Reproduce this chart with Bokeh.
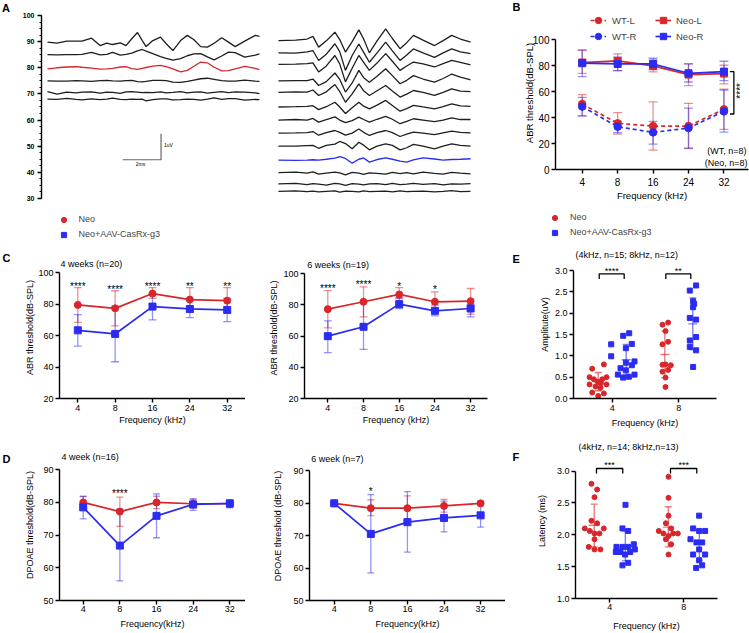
import numpy as np
from bokeh.plotting import figure
from bokeh.models import (ColumnDataSource, Whisker, TeeHead, Legend, LegendItem, Label,
                          LabelSet, FixedTicker, SingleIntervalTicker, Range1d, PrintfTickFormatter)
from bokeh.core.properties import value
from bokeh.layouts import row, column
from bokeh.embed import file_html
from bokeh.resources import INLINE

FONT = "Liberation Sans"
RED = "#d8262b"
BLUE = "#2b2bf2"
WAVE = "#1e1e1e"

# ------------------------------------------------------------------ data
FREQ_LABELS = ["4", "8", "16", "24", "32"]
FREQ_POS = [0, 1, 2, 3, 4]

# Panel A: ABR waveforms (time in ms, offsets in axis units; 1 uV = 10 axis units)
LEFT_T = [0, 0.5, 1.0, 1.5, 1.8, 2.3, 2.75, 3.1, 3.4, 3.8, 4.1, 4.4, 4.7, 4.95, 5.15, 5.5,
          5.9, 6.2, 6.55, 6.95, 7.3, 7.65, 8.0, 8.35, 8.7, 9.1, 9.45, 9.8, 10.3, 10.85, 11.07]
LEFT_BASE = [89.8, 85.0, 79.7, 75.0, 70.6, 68.0]
LEFT_COLORS = [WAVE, WAVE, RED, WAVE, WAVE, WAVE]
LEFT_DEV = [
    [0, -0.4, 0.4, 0.4, 0.4, 1.5, -1.3, -0.4, -0.9, -0.3, -1.3, 1.3, 3.7, 0.6, -1.7, 0.6, 1.9, -0.6, -3.2, 0.6, 2.6, 0.9, -1.7, -1.9, -0.4, 1.7, 0.0, -1.7, 0.4, 2.6, 2.2],
    [0, -0.1, 0, 0, 0.1, 0.9, -0.1, 0.1, 0.9, -0.2, 0.1, 0.6, 1.5, 2.0, 1.4, 0.4, -0.7, -1.4, -2.1, -1.5, -0.4, 0.3, 0.4, -0.8, -2.0, -0.5, 1.0, 0.8, -0.9, -0.2, 0.3],
    [-0.1, 0.3, 0.6, 0.7, 0.5, 0.2, -0.2, -0.1, 0.1, 0.6, 0.7, 0.0, -0.3, 0.1, 0.4, 0.9, 1.2, 0.7, -0.1, -1.3, -0.7, 0.9, 2.5, 2.2, 0.5, -0.9, -0.8, -0.1, 0.8, 0.1, -0.4],
    [0, -0.1, -0.1, 0.1, 0.0, -0.2, 0.1, 0.2, 0.0, -0.1, 0.1, 0.2, -0.3, -0.4, -0.2, 0.2, 0.2, 0.1, -0.5, -0.6, -0.2, 0.3, 0.8, 1.0, 0.6, 0.1, -0.1, -0.1, 0.3, -0.1, -0.2],
    [0.3, -0.7, 0.1, -0.2, 0.1, 0.2, -0.3, 0.1, 0.0, -0.4, 0.2, 0.3, 0.1, -0.1, 0.0, -0.1, 0.2, -0.2, 0.0, 0.3, -0.2, 0.1, 0.2, -0.3, 0.0, 0.3, -0.1, 0.2, 0.1, -0.2, -0.5],
    [0.0, -0.1, 0.3, -0.1, -0.3, 0.1, -0.2, 0.0, 0.4, -0.1, -0.2, 0.0, -0.1, 0.0, -0.7, -0.2, 0.1, 0.1, -0.3, -0.2, 0.0, -0.1, -0.4, 0.0, 0.5, -0.1, 0.2, 0.2, -0.4, -0.1, -0.2],
]
RIGHT_START_MS = 12.06
RIGHT_T = [0, 0.9, 1.5, 1.8, 2.1, 2.5, 2.95, 3.2, 3.5, 3.85, 4.2, 4.45, 4.75, 5.15, 5.6, 5.95,
           6.35, 6.7, 7.05, 7.55, 8.15, 8.6, 9.05, 9.5, 10.05, 10.5]
RIGHT_BASE = [90.4, 85.7, 81.3, 75.0, 70.6, 65.0, 60.0, 55.0, 50.0, 44.7, 39.6, 35.5, 32.7]
RIGHT_COLORS = [WAVE] * 9 + [BLUE] + [WAVE] * 3
RIGHT_DEV = [
    [0, 0.2, 0.6, 1.6, -2.5, -0.1, 3.2, 0.4, -4.4, -0.4, 4.1, 0.6, -4.7, -0.1, 4.5, 0.8, -3.1, -0.8, 2.0, 0.2, -1.9, 0, 2.0, 0.6, -0.6, -1.0],
    [0, -0.1, 0.4, 0.9, -2.9, -0.5, 3.5, 0.5, -6.7, -1.0, 3.4, 0.2, -3.6, 0.0, 4.1, 0.8, -2.9, -0.8, 1.5, 0.0, -1.7, 0.0, 1.5, 0.4, -0.3, -0.6],
    [0, 0.1, 0.3, 0.6, -2.9, -0.6, 3.4, 0.2, -6.7, -1.5, 3.4, 0.8, -2.3, 0.5, 4.1, 1.2, -2.3, -0.6, 0.9, 0.2, -1.0, 0.3, 1.5, 0.8, -0.2, -0.5],
    [0, 0.1, 0.1, 0.7, -1.8, -0.3, 3.0, 0.6, -4.3, -0.8, 4.0, 1.2, -0.5, 1.8, 4.6, 2.0, -1.1, 0.2, 2.0, 0.7, -0.5, 0.9, 2.6, 1.4, 0.4, 0.2],
    [0, 0.2, 0.1, 0.9, -1.2, 0.2, 3.0, 0.3, -3.8, -0.6, 3.2, 0.6, -1.2, 0.6, 2.6, 0.5, -1.8, -0.7, 0.7, 0.0, -1.2, 0.0, 1.3, 0.5, 0.3, 0.0],
    [0, 0.1, 0.2, 0.5, -1.0, 0.1, 1.8, 0.0, -2.5, -0.3, 1.8, 0.3, -0.7, 0.7, 2.5, 0.6, -1.6, -0.6, 0.6, 0.0, -0.7, 0.1, 1.2, 0.4, 0.2, 0.0],
    [0, 0.2, 0.0, 0.6, -0.8, 0.2, 1.2, 0.0, -1.0, -0.2, 1.1, 0.2, -0.8, 0.3, 1.4, 0.3, -1.4, -0.5, 0.5, 0.0, -0.6, 0.0, 0.8, 0.2, 0.2, 0.0],
    [0, 0.1, 0.2, 0.6, -0.8, 0.2, 1.0, 0.3, -0.8, 0.0, 1.6, 0.3, -0.9, 0.2, 1.0, 0.2, -1.3, -0.4, 0.4, 0.0, -0.6, 0.1, 0.8, 0.3, 0.1, 0.0],
    [0, 0.0, 0.2, 0.3, -0.8, 0.3, 0.8, 1.8, 1.0, -1.0, 1.5, 0.4, -1.4, 0.0, 0.9, 0.3, -1.4, -0.6, 0.7, 0.0, -1.0, 0.0, 0.9, 0.3, 0.0, 0.0],
    [0, -0.1, 0.0, 0.1, 0.0, 0.3, 0.7, 1.3, 0.6, -1.2, 0.3, 0.8, -0.8, 0.2, 0.8, 0.3, -0.4, -0.8, 0.1, 0.8, 0.4, 0.0, 0.2, 0.3, 0.5, 0.4],
    [0.3, 0.5, 0.1, 0.6, -0.3, 0.1, 0.5, 0.2, -0.6, 0.4, 0.1, -0.4, 0.2, 0.0, -0.3, 0.4, -0.1, 0.3, -0.2, 0.5, 0.0, -0.3, 0.4, 0.1, -0.2, 0.0],
    [0.1, 0.3, -0.2, 0.2, 0.0, -0.4, 0.3, 0.1, -0.5, 0.2, 0.0, -0.3, 0.1, 0.2, -0.2, 0.3, -0.2, 0.0, 0.3, -0.1, 0.2, -0.3, 0.1, 0.0, 0.2, -0.1],
    [0.0, 0.2, -0.1, 0.1, -0.2, 0.0, 0.2, -0.3, 0.1, 0.0, -0.2, 0.2, -0.1, 0.0, 0.1, -0.2, 0.2, -0.1, 0.0, 0.1, -0.2, 0.0, 0.3, -0.1, 0.0, 0.1],
]
SCALE_MS = 2
SCALE_UV = 1
UV_AXIS_UNITS = 10

# Panel B: ABR thresholds, mean / lower / upper
WT_L = [50.5, 35.6, 33.5, 33.5, 46.4]
WT_L_LO = [41.5, 27.3, 14.9, 16.2, 31.0]
WT_L_HI = [57.7, 43.8, 52.1, 51.0, 62.0]
WT_R = [48.5, 33.0, 28.6, 32.0, 44.8]
WT_R_LO = [41.2, 28.4, 19.6, 16.5, 28.9]
WT_R_HI = [55.7, 37.1, 37.1, 47.4, 61.3]
NEO_L = [82.5, 83.8, 79.9, 73.2, 74.0]
NEO_L_LO = [74.2, 76.3, 75.3, 64.7, 66.0]
NEO_L_HI = [91.8, 89.2, 84.5, 81.4, 80.4]
NEO_R = [82.0, 81.4, 81.4, 74.2, 75.5]
NEO_R_LO = [71.6, 76.3, 77.1, 67.5, 68.6]
NEO_R_HI = [92.3, 86.6, 85.8, 81.4, 83.5]
B_SIG_Y = [75.5, 42.8]

# Panel C: ABR thresholds Neo (red) vs Neo+AAV (blue)
C4_RED = [79.6, 77.4, 86.8, 83.0, 82.3]
C4_RED_LO = [68.5, 66.2, 83.8, 75.0, 74.3]
C4_RED_HI = [90.6, 88.6, 90.6, 90.6, 90.6]
C4_BLUE = [63.4, 61.1, 78.5, 77.0, 76.4]
C4_BLUE_LO = [53.4, 43.4, 70.0, 71.5, 69.0]
C4_BLUE_HI = [73.4, 78.8, 86.5, 82.5, 83.8]
C4_STARS = ["****", "****", "****", "**", "**"]
C4_STAR_Y = [91.0, 89.1, 91.0, 91.0, 91.0]

C6_RED = [77.2, 81.9, 86.6, 81.9, 82.3]
C6_RED_LO = [65.2, 72.3, 84.0, 75.5, 74.0]
C6_RED_HI = [89.1, 91.5, 91.0, 88.3, 90.4]
C6_BLUE = [59.9, 65.9, 80.4, 76.1, 77.6]
C6_BLUE_LO = [49.4, 51.4, 77.6, 72.9, 72.3]
C6_BLUE_HI = [69.7, 81.5, 84.4, 79.7, 80.2]
C6_STARS = ["****", "****", "*", "*", ""]
C6_STAR_Y = [90.6, 92.9, 91.9, 89.7, 90.0]

# Panel D: DPOAE thresholds
D4_RED = [80.0, 77.2, 80.0, 79.6, 79.6]
D4_RED_LO = [78.0, 72.7, 78.1, 78.3, 78.4]
D4_RED_HI = [81.8, 81.6, 81.9, 81.0, 80.8]
D4_BLUE = [78.5, 66.8, 75.9, 79.4, 79.7]
D4_BLUE_LO = [75.0, 56.0, 69.2, 77.6, 78.4]
D4_BLUE_HI = [81.9, 78.0, 82.6, 81.1, 80.8]
D4_STARS = ["", "****", "", "", ""]
D4_STAR_Y = [83.0, 82.8, 83.0, 83.0, 83.0]

D6_RED = [79.9, 78.4, 78.4, 79.1, 79.9]
D6_RED_LO = [79.7, 76.1, 75.1, 77.2, 79.2]
D6_RED_HI = [80.1, 81.0, 82.2, 81.1, 80.6]
D6_BLUE = [79.9, 70.5, 74.1, 75.4, 76.2]
D6_BLUE_LO = [79.7, 58.5, 64.9, 71.1, 72.6]
D6_BLUE_HI = [80.1, 82.6, 83.5, 80.6, 80.0]
D6_STARS = ["", "*", "", "", ""]
D6_STAR_Y = [83.0, 83.5, 83.0, 83.0, 83.0]

# Panel E: amplitude (uV) per animal; dx = horizontal jitter
E_CATS = ["4", "8"]
E_RED_4 = [0.80, 0.70, 0.50, 0.50, 0.45, 0.45, 0.39, 0.36, 0.33, 0.33, 0.28, 0.25, 0.14, 0.12, 0.06]
E_RED_4_DX = [-0.125, -0.30, -0.34, -0.085, -0.275, -0.15, -0.215, -0.17, -0.34, -0.085, -0.25, -0.175, -0.30, -0.125, -0.21]
E_BLUE_4 = [1.53, 1.47, 1.28, 1.27, 1.18, 0.99, 0.87, 0.84, 0.78, 0.71, 0.66, 0.56, 0.56, 0.51, 0.49]
E_BLUE_4_DX = [0.255, 0.165, 0.295, -0.015, 0.205, -0.015, 0.335, 0.205, 0.295, 0.125, 0.205, 0.085, 0.335, 0.25, 0.165]
E_RED_8 = [1.78, 1.73, 1.58, 1.33, 1.27, 0.80, 0.79, 0.78, 0.67, 0.63, 0.49, 0.27]
E_RED_8_DX = [-0.16, -0.245, -0.20, -0.16, -0.245, -0.20, -0.245, -0.12, -0.16, -0.245, -0.20, -0.20]
E_BLUE_8 = [2.65, 2.53, 2.28, 2.22, 2.14, 1.89, 1.85, 1.44, 1.36, 1.21, 1.13, 0.74]
E_BLUE_8_DX = [0.26, 0.165, 0.215, 0.23, 0.215, 0.165, 0.26, 0.26, 0.165, 0.165, 0.26, 0.215]
E_RED_MEAN = [0.39, 1.03]
E_RED_SD_LO = [0.18, 0.49]
E_RED_SD_HI = [0.61, 1.58]
E_BLUE_MEAN = [0.91, 1.75]
E_BLUE_SD_LO = [0.56, 1.14]
E_BLUE_SD_HI = [1.27, 2.36]
E_SIG = ["****", "**"]
E_SIG_Y = [2.92, 2.80]
E_SIG_TEXT_Y = 2.99

# Panel F: latency (ms)
F_RED_4 = [2.80, 2.71, 2.59, 2.22, 2.18, 2.10, 2.10, 2.06, 2.02, 2.02, 1.93, 1.81, 1.77, 1.77]
F_RED_4_DX = [-0.248, -0.171, -0.207, -0.248, -0.171, -0.338, -0.081, -0.270, -0.207, -0.140, -0.207, -0.284, -0.207, -0.126]
F_BLUE_4 = [2.47, 2.10, 2.06, 1.81, 1.81, 1.81, 1.85, 1.77, 1.73, 1.73, 1.73, 1.69, 1.56, 1.52]
F_BLUE_4_DX = [0.212, 0.171, 0.248, 0.090, 0.171, 0.248, 0.324, 0.338, 0.081, 0.144, 0.275, 0.207, 0.248, 0.171]
F_RED_8 = [2.91, 2.58, 2.30, 2.18, 2.10, 2.06, 2.02, 2.02, 2.02, 1.98, 1.93, 1.85, 1.69]
F_RED_8_DX = [-0.207, -0.207, -0.207, -0.243, -0.171, -0.338, -0.275, -0.144, -0.081, -0.207, -0.243, -0.171, -0.207]
F_BLUE_8 = [2.30, 2.10, 2.06, 2.06, 1.93, 1.88, 1.88, 1.77, 1.69, 1.69, 1.60, 1.52, 1.48]
F_BLUE_8_DX = [0.207, 0.126, 0.207, 0.288, 0.090, 0.171, 0.248, 0.207, 0.126, 0.288, 0.207, 0.248, 0.167]
F_RED_MEAN = [2.15, 2.12]
F_RED_SD_LO = [1.81, 1.81]
F_RED_SD_HI = [2.48, 2.44]
F_BLUE_MEAN = [1.79, 1.88]
F_BLUE_SD_LO = [1.59, 1.60]
F_BLUE_SD_HI = [2.06, 2.08]
F_SIG = ["***", "***"]
F_SIG_Y = [3.04, 2.96]
F_SIG_TEXT_Y = 3.10


# ------------------------------------------------------------------ helpers
def base_fig(w, h, xr, yr, left, right, top, bottom, axes=True):
    kw = {} if axes else dict(x_axis_type=None, y_axis_type=None)
    p = figure(width=w, height=h, x_range=Range1d(*xr), y_range=Range1d(*yr),
               output_backend="svg", toolbar_location=None,
               min_border_left=left, min_border_right=right,
               min_border_top=top, min_border_bottom=bottom, **kw)
    p.grid.visible = False
    p.outline_line_color = None
    return p


def style_axis(ax, tick_size="9px", label_size="9px", label_standoff=2, tick_standoff=2):
    ax.axis_line_width = 1.4
    ax.axis_line_color = "black"
    ax.major_tick_line_width = 1.4
    ax.major_tick_line_color = "black"
    ax.major_tick_out = 4
    ax.major_tick_in = 0
    ax.minor_tick_line_color = None
    ax.major_label_text_font = FONT
    ax.major_label_text_font_size = tick_size
    ax.major_label_text_color = "black"
    ax.major_label_standoff = tick_standoff
    ax.axis_label_text_font = FONT
    ax.axis_label_text_font_size = label_size
    ax.axis_label_text_font_style = "normal"
    ax.axis_label_text_color = "black"
    ax.axis_label_standoff = label_standoff


def cat_xaxis(p, labels):
    pos = list(range(len(labels)))
    p.xaxis.ticker = FixedTicker(ticks=pos)
    p.xaxis.major_label_overrides = {i: s for i, s in zip(pos, labels)}


def slabel(p, x, y, text, size="9px", align="left", baseline="middle", bold=False, angle=0.0,
           units="screen"):
    p.add_layout(Label(x=x, y=y, x_units=units, y_units=units, text=text, text_font=FONT,
                       text_font_size=size, text_align=align, text_baseline=baseline,
                       text_font_style="bold" if bold else "normal", angle=angle,
                       text_color="black"))


def errbars(p, x, lo, hi, color, head=8, alpha=0.5, width=1.3):
    src = ColumnDataSource(dict(x=list(x), lo=list(lo), hi=list(hi)))
    kw = dict(line_color=color, line_alpha=alpha, line_width=width)
    p.add_layout(Whisker(source=src, base="x", lower="lo", upper="hi",
                         upper_head=TeeHead(size=head, **kw),
                         lower_head=TeeHead(size=head, **kw), **kw))


def star_labels(p, xs, ys, texts, size="10px"):
    src = ColumnDataSource(dict(x=list(xs), y=list(ys), t=list(texts)))
    p.add_layout(LabelSet(x="x", y="y", text="t", source=src, text_align="center",
                          text_baseline="middle", text_font=value(FONT),
                          text_font_size=value(size), text_color="black"))


def legend(p, items, loc, gw, gh, standoff, spacing, size="9px"):
    lg = Legend(items=[LegendItem(label=t, renderers=r) for t, r in items], location=loc,
                orientation="vertical", glyph_width=gw, glyph_height=gh, label_height=gh,
                label_width=10, label_standoff=standoff, spacing=spacing, padding=0, margin=0,
                border_line_color=None, background_fill_alpha=0,
                label_text_font=FONT, label_text_font_size=size)
    p.add_layout(lg)


def key_markers(p):
    # legend keys only (no visible data point)
    rn = p.scatter([np.nan], [np.nan], marker="circle", size=5, color=RED)
    rg = p.scatter([np.nan], [np.nan], marker="square", size=5, color=BLUE)
    return rn, rg


def threshold_panel(w, h, xr, yr, bounds, borders, yticks, red, red_lo, red_hi, blue, blue_lo,
                    blue_hi, stars, star_y, ylabel, xlabel, head=8, ylab_std=0, xlab_std=1,
                    xtick_std=2):
    p = base_fig(w, h, xr, yr, *borders)
    errbars(p, FREQ_POS, red_lo, red_hi, RED, head)
    errbars(p, FREQ_POS, blue_lo, blue_hi, BLUE, head)
    p.line(FREQ_POS, red, line_color=RED, line_width=1.7)
    p.scatter(FREQ_POS, red, marker="circle", size=7, color=RED)
    p.line(FREQ_POS, blue, line_color=BLUE, line_width=1.7)
    p.scatter(FREQ_POS, blue, marker="square", size=7, color=BLUE)
    cat_xaxis(p, FREQ_LABELS)
    p.yaxis.ticker = FixedTicker(ticks=yticks)
    p.yaxis.bounds = bounds
    style_axis(p.xaxis[0], label_standoff=xlab_std, tick_standoff=xtick_std)
    style_axis(p.yaxis[0], label_standoff=ylab_std)
    p.xaxis.axis_label = xlabel
    p.yaxis.axis_label = ylabel
    star_labels(p, FREQ_POS, star_y, stars)
    return p


def dot_panel(w, h, xr, yr, bounds, borders, yticks, groups, means, sig, sig_y, sig_text_y, br,
              ylabel, mean_size, ylab_std, xlab_std, xtick_std):
    p = base_fig(w, h, xr, yr, *borders)
    red_off, blue_off = -0.21, 0.21
    (r4, r4dx, b4, b4dx, r8, r8dx, b8, b8dx) = groups
    (rm, rlo, rhi, bm, blo, bhi) = means
    rx = [i + red_off for i in range(2)]
    bx = [i + blue_off for i in range(2)]
    errbars(p, rx, rlo, rhi, RED, 7, alpha=0.6, width=1.4)
    errbars(p, bx, blo, bhi, BLUE, 7, alpha=0.6, width=1.4)
    p.scatter(rx, rm, marker="dash", size=mean_size, line_color=RED, line_alpha=0.6, line_width=1.4)
    p.scatter(bx, bm, marker="dash", size=mean_size, line_color=BLUE, line_alpha=0.6, line_width=1.4)
    p.scatter([0 + d for d in r4dx] + [1 + d for d in r8dx], r4 + r8, marker="circle", size=5,
              color=RED)
    p.scatter([0 + d for d in b4dx] + [1 + d for d in b8dx], b4 + b8, marker="square", size=5,
              color=BLUE)
    top, leg = sig_y
    bl, brr = br
    p.multi_line(xs=[[i + bl, i + bl, i + brr, i + brr] for i in range(2)],
                 ys=[[leg, top, top, leg] for _ in range(2)], line_color="black", line_width=1.3)
    star_labels(p, [i + (bl + brr) / 2 for i in range(2)], [sig_text_y] * 2, sig, size="9px")
    cat_xaxis(p, E_CATS)
    p.yaxis.ticker = FixedTicker(ticks=yticks)
    p.yaxis.bounds = bounds
    p.yaxis.formatter = PrintfTickFormatter(format="%.1f")
    style_axis(p.xaxis[0], label_standoff=xlab_std, tick_standoff=xtick_std)
    style_axis(p.yaxis[0], label_standoff=ylab_std)
    p.xaxis.axis_label = "Frequency (kHz)"
    p.yaxis.axis_label = ylabel
    return p


# ------------------------------------------------------------------ panel A  (page x 14..505, y 0..250)
pA = base_fig(491, 250, (-0.313, 22.09), (12.0, 100), 27, 35, 15, 5)
pA.xaxis.visible = False
ya = pA.yaxis[0]
ya.ticker = SingleIntervalTicker(interval=10, num_minor_ticks=4)
ya.bounds = (30, 100)
style_axis(ya, tick_size="7px", tick_standoff=3)
ya.major_label_text_font_style = "bold"
ya.minor_tick_line_color = "black"
ya.minor_tick_line_width = 1.2
ya.minor_tick_out = 2
ya.minor_tick_in = 0
xs, ys, cs = [], [], []
for b, dev, c in zip(LEFT_BASE, LEFT_DEV, LEFT_COLORS):
    xs.append(list(LEFT_T))
    ys.append([b + d for d in dev])
    cs.append(c)
for b, dev, c in zip(RIGHT_BASE, RIGHT_DEV, RIGHT_COLORS):
    xs.append([RIGHT_START_MS + t for t in RIGHT_T])
    ys.append([b + d for d in dev])
    cs.append(c)
pA.multi_line(xs=xs, ys=ys, line_color=cs, line_width=1.3)
sb_x, sb_y = 3.93, 44.8
pA.line([sb_x, sb_x + SCALE_MS, sb_x + SCALE_MS],
        [sb_y, sb_y, sb_y + SCALE_UV * UV_AXIS_UNITS], line_color="#666666", line_width=1.2)
slabel(pA, sb_x + SCALE_MS + 0.15, sb_y + 5.5, "1uV", size="5px", units="data")
slabel(pA, sb_x + SCALE_MS / 2 - 0.07, sb_y - 1.5, "2ms", size="5px", align="center", units="data")
ra_n, ra_g = key_markers(pA)
legend(pA, [("Neo", [ra_n]), ("Neo+AAV-CasRx-g3", [ra_g])], (15.5, 4.5), 13, 13, 9, 2)

# ------------------------------------------------------------------ panel B  (page x 520..749, y 0..205)
pB = base_fig(229, 205, (-0.754, 4.693), (0, 118), 33, 1, 16, 36)
errbars(pB, FREQ_POS, WT_L_LO, WT_L_HI, RED, 9)
errbars(pB, FREQ_POS, WT_R_LO, WT_R_HI, BLUE, 9)
errbars(pB, FREQ_POS, NEO_L_LO, NEO_L_HI, RED, 9)
errbars(pB, FREQ_POS, NEO_R_LO, NEO_R_HI, BLUE, 9)
l1 = pB.line(FREQ_POS, WT_L, line_color=RED, line_width=1.7, line_dash="4 3")
m1 = pB.scatter(FREQ_POS, WT_L, marker="circle", size=7.5, color=RED)
l2 = pB.line(FREQ_POS, WT_R, line_color=BLUE, line_width=1.7, line_dash="4 3")
m2 = pB.scatter(FREQ_POS, WT_R, marker="circle", size=7.5, color=BLUE)
l3 = pB.line(FREQ_POS, NEO_L, line_color=RED, line_width=1.7)
m3 = pB.scatter(FREQ_POS, NEO_L, marker="square", size=7, color=RED)
l4 = pB.line(FREQ_POS, NEO_R, line_color=BLUE, line_width=1.7)
m4 = pB.scatter(FREQ_POS, NEO_R, marker="square", size=7, color=BLUE)
cat_xaxis(pB, FREQ_LABELS)
pB.yaxis.ticker = FixedTicker(ticks=[0, 20, 40, 60, 80, 100])
pB.yaxis.bounds = (0, 100)
style_axis(pB.xaxis[0], tick_size="10px", label_size="9.5px", label_standoff=1, tick_standoff=4)
style_axis(pB.yaxis[0], tick_size="10px", label_size="9.5px", label_standoff=-5, tick_standoff=2)
pB.xaxis.axis_label = "Frequency (kHz)"
pB.yaxis.axis_label = "ABR threshold(dB-SPL)"
pB.line([4.17, 4.28, 4.28, 4.17], [B_SIG_Y[0], B_SIG_Y[0], B_SIG_Y[1], B_SIG_Y[1]],
        line_color="black", line_width=1.3)
slabel(pB, 4.47, sum(B_SIG_Y) / 2 + 1.5, "****", size="10px", align="center", angle=np.pi / 2,
       units="data")
slabel(pB, 191, 19, "(WT, n=8)", size="9px", align="right")
slabel(pB, 192, 7, "(Neo, n=8)", size="9px", align="right")
legend(pB, [("WT-L", [l1, m1]), ("WT-R", [l2, m2])], (35, 125), 16, 16, 6, -4, size="9.5px")
legend(pB, [("Neo-L", [l3, m3]), ("Neo-R", [l4, m4])], (100, 125), 16, 16, 5, -4, size="9.5px")

# legend strip for panels E/F  (page x 520..749, y 205..250)
pLeg = base_fig(229, 45, (0, 1), (0, 1), 0, 0, 0, 0, axes=False)
rb_n, rb_g = key_markers(pLeg)
legend(pLeg, [("Neo", [rb_n]), ("Neo+AAV-CasRx-g3", [rb_g])], (28, 11.5), 13, 13, 9, 2)

# ------------------------------------------------------------------ panel C  (y 250..430)
pC4 = threshold_panel(231, 180, (-0.49, 4.49), (20, 110.4), (20, 100), (45, 0, 6, 32),
                      [20, 40, 60, 80, 100], C4_RED, C4_RED_LO, C4_RED_HI,
                      C4_BLUE, C4_BLUE_LO, C4_BLUE_HI, C4_STARS, C4_STAR_Y,
                      "ABR threshold(dB-SPL)", "Frequency (kHz)", ylab_std=0)
slabel(pC4, 1, 135, "4 weeks (n=20)")

pC6 = threshold_panel(260, 180, (-0.653, 4.473), (20, 110.24), (20, 100), (59, 18, 7, 32),
                      [20, 40, 60, 80, 100], C6_RED, C6_RED_LO, C6_RED_HI,
                      C6_BLUE, C6_BLUE_LO, C6_BLUE_HI, C6_STARS, C6_STAR_Y,
                      "ABR threshold(dB-SPL)", "Frequency (kHz)", ylab_std=1)
slabel(pC6, 2.7, 133.7, "6 weeks (n=19)")

# ------------------------------------------------------------------ panel D  (y 430..633)
pD4 = threshold_panel(231, 203, (-0.647, 4.428), (50, 96.2), (50, 90), (45, 0, 19, 33),
                      [50, 60, 70, 80, 90], D4_RED, D4_RED_LO, D4_RED_HI,
                      D4_BLUE, D4_BLUE_LO, D4_BLUE_HI, D4_STARS, D4_STAR_Y,
                      "DPOAE threshold(dB-SPL)", "Frequency(kHz)", head=7, ylab_std=5,
                      xlab_std=4, xtick_std=1)
slabel(pD4, 2, 144, "4 week (n=16)")

pD6 = threshold_panel(260, 203, (-0.675, 4.68), (50, 95.85), (50, 90), (64, 0, 21, 33),
                      [50, 60, 70, 80, 90], D6_RED, D6_RED_LO, D6_RED_HI,
                      D6_BLUE, D6_BLUE_LO, D6_BLUE_HI, D6_STARS, D6_STAR_Y,
                      "DPOAE threshold (dB-SPL)", "Frequency(kHz)", head=7, ylab_std=7,
                      xlab_std=4, xtick_std=1)
slabel(pD6, 1.7, 141.7, "6 week (n=7)")

# ------------------------------------------------------------------ panels E, F
pE = dot_panel(229, 180, (-0.581, 1.566), (0, 3.47), (0, 3), (53, 33, 0, 32),
               [0, 0.5, 1.0, 1.5, 2.0, 2.5, 3.0],
               (E_RED_4, E_RED_4_DX, E_BLUE_4, E_BLUE_4_DX, E_RED_8, E_RED_8_DX, E_BLUE_8, E_BLUE_8_DX),
               (E_RED_MEAN, E_RED_SD_LO, E_RED_SD_HI, E_BLUE_MEAN, E_BLUE_SD_LO, E_BLUE_SD_HI),
               E_SIG, E_SIG_Y, E_SIG_TEXT_Y, (-0.195, 0.18), "Amplitute(uV)", 9,
               ylab_std=2, xlab_std=4, xtick_std=2)
slabel(pE, 2, 144, "(4kHz, n=15; 8kHz, n=12)", align="left")

pF = dot_panel(229, 203, (-0.4635, 1.455), (1, 3.432), (1, 3), (55, 32, 13, 32),
               [1.0, 1.5, 2.0, 2.5, 3.0],
               (F_RED_4, F_RED_4_DX, F_BLUE_4, F_BLUE_4_DX, F_RED_8, F_RED_8_DX, F_BLUE_8, F_BLUE_8_DX),
               (F_RED_MEAN, F_RED_SD_LO, F_RED_SD_HI, F_BLUE_MEAN, F_BLUE_SD_LO, F_BLUE_SD_HI),
               F_SIG, F_SIG_Y, F_SIG_TEXT_Y, (-0.18, 0.175), "Latency (ms)", 11,
               ylab_std=7, xlab_std=8, xtick_std=1)
slabel(pF, 3, 151.7, "(4kHz, n=14; 8kHz,n=13)", align="left")

# ------------------------------------------------------------------ panel letters strips
stripL = base_fig(14, 633, (0, 1), (0, 1), 0, 0, 0, 0, axes=False)
slabel(stripL, 1.5, 626, "A", size="11px", bold=True)
slabel(stripL, 2, 375.5, "C", size="11px", bold=True)
slabel(stripL, 2, 175, "D", size="11px", bold=True)
stripR = base_fig(15, 633, (0, 1), (0, 1), 0, 0, 0, 0, axes=False)
slabel(stripR, 7, 627, "B", size="11px", bold=True)
slabel(stripR, 7, 375, "E", size="11px", bold=True)
slabel(stripR, 7, 176.5, "F", size="11px", bold=True)


def w(p):
    return column(p)


mid = column(w(pA), row(w(pC4), w(pC6)), row(w(pD4), w(pD6)))
right = column(w(pB), w(pLeg), w(pE), w(pF))
layout = row(w(stripL), mid, w(stripR), right)

with open("out.html", "w") as f:
    f.write(file_html(layout, INLINE))
